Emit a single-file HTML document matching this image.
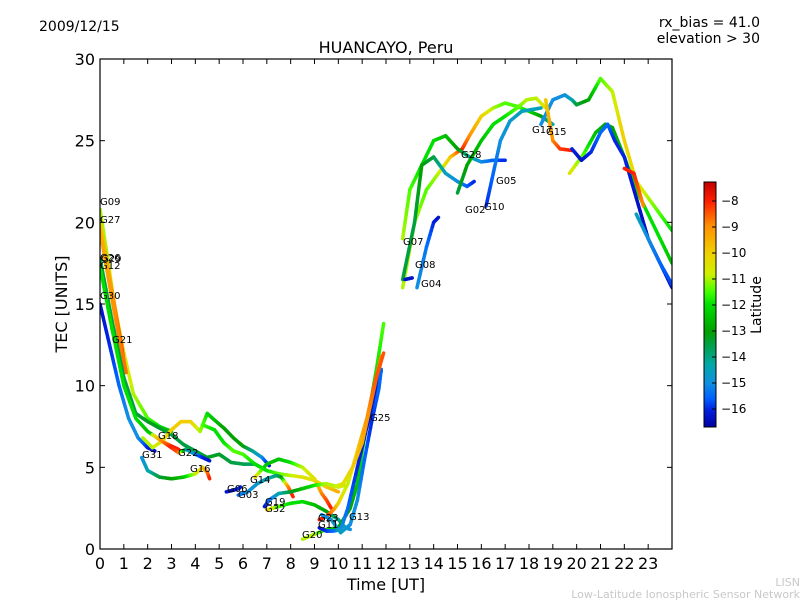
<!DOCTYPE html>
<html><head><meta charset="utf-8"><style>
html,body{margin:0;padding:0;background:#fff;}
svg{display:block;font-family:"DejaVu Sans","Liberation Sans",sans-serif;}
</style></head><body>
<svg id="chart" width="800" height="600" viewBox="0 0 800 600">
<defs>
<linearGradient id="cbgrad" x1="0" y1="1" x2="0" y2="0">
<stop offset="0" stop-color="#0000a0"/>
<stop offset="0.07" stop-color="#0020e0"/>
<stop offset="0.117" stop-color="#0060ff"/>
<stop offset="0.18" stop-color="#1090e0"/>
<stop offset="0.255" stop-color="#00a8a8"/>
<stop offset="0.34" stop-color="#00a040"/>
<stop offset="0.39" stop-color="#00a000"/>
<stop offset="0.50" stop-color="#00e000"/>
<stop offset="0.55" stop-color="#40ff00"/>
<stop offset="0.625" stop-color="#d0f000"/>
<stop offset="0.71" stop-color="#f0d000"/>
<stop offset="0.82" stop-color="#ff9000"/>
<stop offset="0.92" stop-color="#ff2000"/>
<stop offset="1" stop-color="#c00000"/>
</linearGradient>
<clipPath id="plotclip"><rect x="100" y="59" width="572" height="490"/></clipPath>
</defs>
<text x="39" y="31" font-size="14">2009/12/15</text>
<text x="760" y="27" font-size="14" text-anchor="end">rx_bias = 41.0</text>
<text x="760" y="43" font-size="14" text-anchor="end">elevation &gt; 30</text>
<text x="386" y="53" font-size="16" text-anchor="middle">HUANCAYO, Peru</text>
<g id="series" clip-path="url(#plotclip)"></g>
<rect x="100" y="59" width="572" height="490" fill="none" stroke="#000" stroke-width="1.2"/>
<g id="xticks"></g>
<g id="yticks"></g>
<text x="386" y="590" font-size="16" text-anchor="middle">Time [UT]</text>
<text transform="translate(67,304) rotate(-90)" font-size="16" text-anchor="middle">TEC [UNITS]</text>
<g font-size="10" fill="#000">
<text x="100" y="205">G09</text>
<text x="100" y="223">G27</text>
<text x="100" y="261">G26</text>
<text x="101" y="262">G29</text>
<text x="100" y="269">G12</text>
<text x="100" y="299">G30</text>
<text x="112" y="343">G21</text>
<text x="158" y="439">G18</text>
<text x="142" y="458">G31</text>
<text x="178" y="456">G22</text>
<text x="190" y="472">G16</text>
<text x="227" y="492">G06</text>
<text x="238" y="498">G03</text>
<text x="250" y="483">G14</text>
<text x="265" y="505">G19</text>
<text x="265" y="512">G32</text>
<text x="318" y="521">G23</text>
<text x="318" y="528">G11</text>
<text x="302" y="538">G20</text>
<text x="349" y="520">G13</text>
<text x="370" y="421">G25</text>
<text x="403" y="245">G07</text>
<text x="415" y="268">G08</text>
<text x="421" y="287">G04</text>
<text x="461" y="158">G28</text>
<text x="465" y="213">G02</text>
<text x="484" y="210">G10</text>
<text x="496" y="184">G05</text>
<text x="532" y="133">G17</text>
<text x="546" y="135">G15</text>
</g>
<rect x="704" y="182" width="12" height="245" fill="url(#cbgrad)" stroke="#000" stroke-width="1"/>
<g id="cbticks"></g>
<text transform="translate(761,305) rotate(-90)" font-size="14" text-anchor="middle">Latitude</text>
<text x="800" y="586" font-size="11" fill="#c8c8c8" text-anchor="end">LISN</text>
<text x="800" y="598" font-size="11" fill="#c8c8c8" text-anchor="end">Low-Latitude Ionospheric Sensor Network</text>
</svg>
<script>
const xTickLabels = [0,1,2,3,4,5,6,7,8,9,10,11,12,13,14,15,16,17,18,19,20,21,22,23];
const yTickLabels = [0,5,10,15,20,25,30];
const cbTickLabels = [-8,-9,-10,-11,-12,-13,-14,-15,-16];
const trackTimes = [
 [0,0.3,0.6,1,1.4,2,2.5,3],
 [0,0.3,0.6,0.9,1.05],
 [0,0.3,0.6,0.9,1.1],
 [0,0.5,1,1.5,2,2.5,3,3.5,4,4.5,5,5.5,6,6.5,7],
 [0,0.5,1,1.5,2,2.5,3,3.3],
 [0,0.4,0.8,1.2,1.6,2,2.3],
 [1.75,2,2.5,3,3.5,4,4.3,4.5,4.6],
 [1.8,2.2,2.6,3,3.4,3.8,4.2,4.5,4.8,5.2,5.6,6,6.4,6.8,7.1],
 [2.2,2.6,3,3.3,3.6,4,4.3,4.6],
 [4.3,4.8,5.2,5.6,6,6.5,7,7.5,8,8.5,9,9.5,10],
 [5.3,5.6,5.8,5.9],
 [5.8,6.2,6.6,7,7.4,7.6,7.9,8.1],
 [6.5,7,7.5,8,8.5,9,9.3,9.5,9.7],
 [7,7.5,8,8.5,9,9.5,10,10.3,10.5],
 [6.9,7.1,7.3,7.5,8,8.5,9,9.5,10,10.3],
 [8.5,9,9.5,10,10.5,10.8,11,11.3,11.6,11.9],
 [9.2,9.5,9.8,10,10.4,10.8,11.2,11.5,11.8],
 [9.2,9.5,9.8,10.1,10.4,10.8,11.2,11.5,11.8],
 [9.3,9.7,10.1,10.5,10.8,11.1,11.4,11.7,11.8],
 [9.8,10.2,10.6,11,11.3,11.6,11.9],
 [12.7,13.2,13.7,14.2,14.7,15.2,15.5,16,16.5,17,17.5,18,18.5,19],
 [12.7,13,13.5,14,14.5,15,15.5,16,16.5,17],
 [12.7,13.2,13.5,14,14.5,15,15.4,15.7],
 [12.8,13.1],
 [13.3,13.7,14,14.2],
 [15,15.4,16,16.5,17,17.5,17.9,18.3,18.7],
 [16.2,16.5,16.8,17.2,17.7,18.5],
 [18.5,19,19.5,19.8,20,20.5,21,21.5,22,22.5,23,23.5,24],
 [18.7,19,19.3,19.8],
 [19.7,20.3,20.8,21.2,21.5,22,22.5,23,23.5,24],
 [19.8,20.2,20.6,21,21.3,21.6,22,22.5,23,23.5,24],
 [22,22.4,22.6,22.8],
 [22.5,23,23.5,24]
];
const trackTec = [
 [20.8,18,15,12,9.5,8,7.5,7.2],
 [20,17.5,15,12.5,11],
 [19.5,17,14.5,12.2,10.8],
 [17.8,14,10.5,8.3,7.8,7.4,7,6.4,6,5.6,5.8,5.3,5.2,5.2,4.8],
 [17.3,13.5,10,8,7.2,6.7,6.3,6.1],
 [15,12.5,10,8,6.8,6.2,6],
 [5.6,4.8,4.4,4.3,4.4,4.6,5,4.7,4.3],
 [6.8,6.2,6.6,7.3,7.8,7.8,7.2,8.3,7.9,7.4,6.8,6.3,6,5.6,5.1],
 [7,6.6,6.2,5.9,6.1,5.8,5.6,5.4],
 [7.6,7.3,6.5,6,5.8,5.2,4.8,4.6,4.5,4.4,4.2,3.8,3.5],
 [3.5,3.6,3.7,3.8],
 [3.3,3.5,4,4.3,4.5,4.4,3.8,3.2],
 [4.4,5.2,5.5,5.3,5,4.3,3.4,3,2.5],
 [2.4,2.6,2.8,2.9,2.7,2.3,1.8,1.3,1.2],
 [2.6,3,3.2,3.4,3.5,3.7,3.9,4,3.8,3.9],
 [0.6,0.9,1.2,1.3,2.5,4,6,8.5,11,13.8],
 [1.8,2,2.4,2.8,4,6,8,10,11.8],
 [1.3,1.1,1.1,1.2,2.5,5,7.5,9.2,10.9],
 [2.1,1.8,1,1.5,3,5.5,7.8,9.8,11],
 [3.8,4,5,6.5,8.5,10.5,12],
 [16,20,22,23,24,24.5,25.3,26.5,27,27.3,27.1,26.8,26.5,26],
 [19,22,23.5,25,25.3,24.5,24,23.7,23.8,23.8],
 [16.5,20,23.5,24,23,22.5,22.2,22.5],
 [16.5,16.6],
 [16,18.5,20,20.3],
 [21.8,23.5,25,26,26.5,27,27.5,27.6,27],
 [21,23,25,26.2,26.8,27],
 [26,27.5,27.8,27.5,27.2,27.5,28.8,28,25,22.5,21.5,20.5,19.5],
 [27.5,25,24.5,24.4],
 [23,24.2,25.5,26,25.8,24,22,20.5,19,17.5],
 [24.5,23.8,24.3,25.5,26,25,24,21.5,19,17.5,16],
 [23.3,23,22,21],
 [20.5,19,17.5,16.2]
];
const trackLat = [
 [-11,-11,-10.5,-10.5,-11,-11.5,-12,-12.5],
 [-10,-9.5,-9,-8.5,-7.8],
 [-9.5,-9.3,-9,-8.8,-8.7],
 [-13.5,-13.5,-13.5,-13.5,-13.3,-13.3,-13.5,-13.5,-13.5,-13.3,-13.3,-13.5,-13.6,-13.8,-14],
 [-12,-12,-12,-12,-12.5,-12,-8,-8],
 [-16.3,-16,-15.5,-15,-15,-16,-16.3],
 [-15,-14.5,-13.5,-13,-12.5,-11,-10,-9,-8],
 [-11,-11,-10.5,-10,-10,-10,-11,-12,-12.5,-13,-13,-13,-14,-15,-16.3],
 [-11,-9,-8,-8.5,-14,-15,-16,-16.3],
 [-11.5,-12,-12,-11.5,-11.5,-12,-12,-11.5,-11,-10.5,-10.5,-10,-9.5],
 [-16.3,-16.3,-16,-16],
 [-15.5,-15,-14.8,-14.5,-14,-13.5,-9,-8],
 [-10,-12.5,-12.5,-12,-11,-10.5,-9,-8.5,-8],
 [-10,-11.5,-12,-12,-12.5,-13,-14,-14.5,-15],
 [-16.3,-15.5,-15,-14.5,-13.5,-12.5,-12,-11,-11,-10.5],
 [-11,-11,-12,-13,-13,-12.5,-12,-12,-12,-11.5],
 [-8,-8,-9,-10,-11,-10,-9,-8.5,-9],
 [-16.3,-16,-15.5,-15,-15.5,-16,-16.3,-16.3,-16],
 [-15,-15,-14.5,-15,-15,-15.5,-16,-15.5,-15.5],
 [-11,-10.5,-10,-9.5,-9,-8.5,-8.5],
 [-11,-11,-11.5,-11,-10,-8,-9,-10,-11,-11.5,-11.5,-12,-13,-14.5],
 [-11,-11.5,-12,-12,-12.5,-13,-14,-15,-15.5,-16],
 [-13.5,-13.5,-13,-13.5,-14.5,-15,-15.5,-16],
 [-16.3,-16.3],
 [-15,-15.3,-16,-16.3],
 [-13.5,-13,-12.5,-12,-12,-11.5,-11,-11,-10.5],
 [-16,-15.5,-15,-14.8,-14.5,-14.5],
 [-15,-15,-15,-14.5,-13.5,-13,-11.5,-11,-10,-10.5,-11,-11.5,-12],
 [-10,-9,-8.3,-8],
 [-10.5,-11.5,-12.5,-13,-13,-12.5,-12,-12,-12,-12.5],
 [-16,-16.3,-16,-15.5,-15.5,-16,-16,-16.3,-16.3,-16,-16.3],
 [-8,-8,-8.5,-9],
 [-14.5,-15,-15.5,-15.8]
];

const X0=100, X1=672, Y0=549, Y1=59;
function xScale(t){return X0+(t/24)*(X1-X0);}
function yScale(v){return Y0-(v/30)*(Y0-Y1);}
function cbScale(l){return 201+(-8-l)*26;}
const cmapStops=[[-16.7,[0,0,160]],[-16.05,[0,32,224]],[-15.6,[0,96,255]],[-15.0,[16,144,224]],[-14.3,[0,168,168]],[-13.5,[0,160,64]],[-13.05,[0,160,0]],[-12,[0,224,0]],[-11.55,[64,255,0]],[-10.85,[208,240,0]],[-10.05,[240,208,0]],[-9.0,[255,144,0]],[-8.05,[255,32,0]],[-7.27,[192,0,0]]];
function latColor(l){
  if(l<=cmapStops[0][0])return 'rgb('+cmapStops[0][1].join(',')+')';
  for(let i=1;i<cmapStops.length;i++){
    if(l<=cmapStops[i][0]){
      const a=cmapStops[i-1],b=cmapStops[i],f=(l-a[0])/(b[0]-a[0]);
      const c=a[1].map((v,k)=>Math.round(v+(b[1][k]-v)*f));
      return 'rgb('+c.join(',')+')';
    }
  }
  return 'rgb(192,0,0)';
}
const NS='http://www.w3.org/2000/svg';
const series=document.getElementById('series');
trackTimes.forEach((times,ti)=>{
  const g=document.createElementNS(NS,'g');
  
  
  const vals=trackTec[ti], lats=trackLat[ti];
  for(let i=0;i<times.length-1;i++){
    const steps=6;
    for(let s=0;s<steps;s++){
      const f0=s/steps,f1=(s+1)/steps;
      const ta=times[i]+(times[i+1]-times[i])*f0, tb=times[i]+(times[i+1]-times[i])*f1;
      const va=vals[i]+(vals[i+1]-vals[i])*f0, vb=vals[i]+(vals[i+1]-vals[i])*f1;
      const la=lats[i]+(lats[i+1]-lats[i])*(f0+f1)/2;
      const ln=document.createElementNS(NS,'line');
      
      
      ln.setAttribute('x1',xScale(ta));ln.setAttribute('y1',yScale(va));
      ln.setAttribute('x2',xScale(tb));ln.setAttribute('y2',yScale(vb));
      ln.setAttribute('stroke',latColor(la));
      ln.setAttribute('stroke-width','3.5');
      ln.setAttribute('stroke-linecap','round');
      g.appendChild(ln);
    }
  }
  series.appendChild(g);
});
const xt=document.getElementById('xticks');
xTickLabels.forEach(h=>{
  const x=xScale(h);
  [[Y0,Y0-5],[Y1,Y1+5]].forEach(p=>{
    const l=document.createElementNS(NS,'line');
    
    
    l.setAttribute('x1',x);l.setAttribute('x2',x);l.setAttribute('y1',p[0]);l.setAttribute('y2',p[1]);
    l.setAttribute('stroke','#000');l.setAttribute('stroke-width','1');
    xt.appendChild(l);
  });
  const t=document.createElementNS(NS,'text');
  
  
  t.setAttribute('x',x);t.setAttribute('y',569);t.setAttribute('font-size','16');t.setAttribute('text-anchor','middle');
  t.textContent=h;xt.appendChild(t);
});
const yt=document.getElementById('yticks');
yTickLabels.forEach(v=>{
  const y=yScale(v);
  [[X0,X0+5],[X1,X1-5]].forEach(p=>{
    const l=document.createElementNS(NS,'line');
    
    
    l.setAttribute('y1',y);l.setAttribute('y2',y);l.setAttribute('x1',p[0]);l.setAttribute('x2',p[1]);
    l.setAttribute('stroke','#000');l.setAttribute('stroke-width','1');
    yt.appendChild(l);
  });
  const t=document.createElementNS(NS,'text');
  
  
  t.setAttribute('x',95);t.setAttribute('y',y+6);t.setAttribute('font-size','16');t.setAttribute('text-anchor','end');
  t.textContent=v;yt.appendChild(t);
});
const cb=document.getElementById('cbticks');
cbTickLabels.forEach(v=>{
  const y=cbScale(v);
  const l=document.createElementNS(NS,'line');
  
  
  l.setAttribute('x1',712);l.setAttribute('x2',716);l.setAttribute('y1',y);l.setAttribute('y2',y);
  l.setAttribute('stroke','#000');
  cb.appendChild(l);
  const t=document.createElementNS(NS,'text');
  
  
  t.setAttribute('x',721);t.setAttribute('y',y+4);t.setAttribute('font-size','12');
  t.textContent='\u2212'+Math.abs(v);cb.appendChild(t);
});
</script>
</body></html>
